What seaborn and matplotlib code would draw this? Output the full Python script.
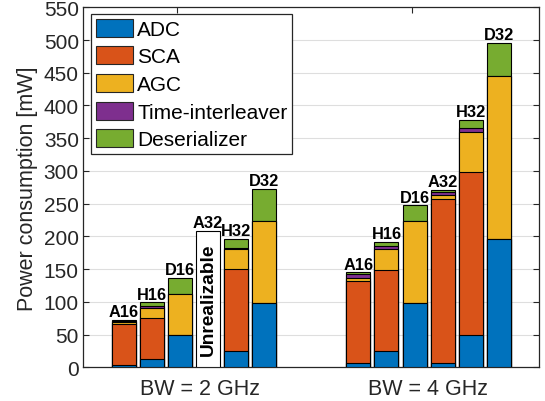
import numpy as np
import pandas as pd
import matplotlib
matplotlib.use("Agg")
import matplotlib.pyplot as plt
from matplotlib.patches import Patch
import seaborn as sns

# ---------------- data ----------------
configs = ["A16", "H16", "D16", "A32", "H32", "D32"]
bandwidths = ["BW = 2 GHz", "BW = 4 GHz"]
components = ["ADC", "SCA", "AGC", "Time-interleaver", "Deserializer"]

# BW = 2 GHz  (A32 is unrealizable)
adc_2 = [3.5, 12.7, 50.0, 0.0, 25.0, 99.0]
sca_2 = [62.0, 63.0, 0.0, 0.0, 125.0, 0.0]
agc_2 = [3.0, 15.0, 62.0, 0.0, 30.0, 124.0]
ti_2 = [3.0, 3.5, 0.0, 0.0, 3.0, 0.0]
des_2 = [1.5, 5.0, 24.5, 0.0, 13.0, 50.0]
realizable_2 = [True, True, True, False, True, True]

# BW = 4 GHz
adc_4 = [6.0, 24.4, 98.0, 6.0, 49.4, 196.0]
sca_4 = [126.0, 125.0, 0.0, 251.0, 248.6, 0.0]
agc_4 = [5.0, 31.5, 125.0, 6.0, 62.0, 249.6]
ti_4 = [5.0, 4.0, 0.0, 5.0, 5.0, 0.0]
des_4 = [3.0, 7.0, 24.5, 3.0, 13.4, 50.0]
realizable_4 = [True, True, True, True, True, True]

unrealizable_box_height = 208.0
unrealizable_text = "Unrealizable"

colors = ["#0072BD", "#D95319", "#EDB120", "#7E2F8E", "#77AC30"]

# ---------------- layout ----------------
group_start = [1.45, 9.8]           # x of first bar in each group
tick_pos = [3.36, 11.72]            # axis tick marks
label_pos = [4.16, 12.29]           # group label centres
xlim = (0.0, 16.23)
bar_width = 0.855

sns.set_theme(style="white")
plt.rcParams["font.family"] = ["Liberation Sans", "DejaVu Sans"]
ink = "#262626"

fig = plt.figure(figsize=(5.45, 4.02), dpi=100)
ax = fig.add_axes([0.1523, 0.0838, 0.9890 - 0.1523, 0.9794 - 0.0838])

rows = []
groups = [
    (adc_2, sca_2, agc_2, ti_2, des_2, realizable_2),
    (adc_4, sca_4, agc_4, ti_4, des_4, realizable_4),
]
for g, (a, s, c, t, d, ok) in enumerate(groups):
    for i, cfg in enumerate(configs):
        vals = [a[i], s[i], c[i], t[i], d[i]]
        cum = np.cumsum(vals)
        for k, comp in enumerate(components):
            rows.append(dict(group=bandwidths[g], config=cfg, pos=group_start[g] + i,
                             comp=comp, k=k, cum=cum[k], ok=ok[i]))
df = pd.DataFrame(rows)

# grid behind
ax.set_axisbelow(True)
ax.yaxis.grid(True, color="#dedede", linewidth=0.8)

# draw cumulative layers, top component first
for k in reversed(range(len(components))):
    sub = df[(df.k == k) & (df.ok)]
    sns.barplot(data=sub, x="pos", y="cum", native_scale=True, orient="x",
                color=colors[k], saturation=1, edgecolor="black", linewidth=0.8,
                width=bar_width, errorbar=None, ax=ax, zorder=3)

# unrealizable placeholder box
bad = df[(df.k == 0) & (~df.ok)].copy()
bad["h"] = unrealizable_box_height
sns.barplot(data=bad, x="pos", y="h", native_scale=True, orient="x",
            color="white", saturation=1, edgecolor="black", linewidth=0.8,
            width=bar_width, errorbar=None, ax=ax, zorder=3)
for _, r in bad.iterrows():
    ax.text(r.pos, unrealizable_box_height / 2, unrealizable_text, rotation=90,
            ha="center", va="center", fontsize=13.8, fontweight="bold",
            color="black", zorder=4)

# config labels on top of bars
tops = df[df.k == len(components) - 1]
for _, r in tops.iterrows():
    top = r.cum if r.ok else unrealizable_box_height
    ax.annotate(r.config, (r.pos, top), xytext=(0, 0.5), textcoords="offset points",
                ha="center", va="bottom", fontsize=11.8, fontweight="bold",
                color="black", zorder=4)

ax.set_xlim(*xlim)
ax.set_ylim(0, 550)
ax.set_yticks(np.arange(0, 551, 50))
ax.set_xticks(tick_pos)
ax.set_xticklabels(["", ""])
ax.set_xlabel("")
ax.set_ylabel("Power consumption [mW]", fontsize=15.5, color=ink, labelpad=4)
for x, lab in zip(label_pos, bandwidths):
    ax.text(x, -0.03, lab, transform=ax.get_xaxis_transform(), ha="center",
            va="top", fontsize=15.5, color=ink)

ax.tick_params(axis="both", direction="in", length=4, width=0.8, color=ink,
               labelsize=15, labelcolor=ink, top=True, right=True, left=True,
               bottom=True, pad=3)
for sp in ax.spines.values():
    sp.set_visible(True)
    sp.set_color(ink)
    sp.set_linewidth(0.9)

handles = [Patch(facecolor=c, edgecolor=ink, linewidth=0.8) for c in colors]
leg = ax.legend(handles, components, loc="upper left",
                bbox_to_anchor=(0.0175, 0.981), borderaxespad=0,
                fontsize=15, frameon=True, fancybox=False, framealpha=1,
                edgecolor=ink, handlelength=1.8, handleheight=0.95,
                handletextpad=0.2, labelspacing=0.36, borderpad=0.22)
leg.get_frame().set_linewidth(0.9)
leg.set_zorder(10)
for t in leg.get_texts():
    t.set_color("black")

fig.savefig("out.png", dpi=100)
